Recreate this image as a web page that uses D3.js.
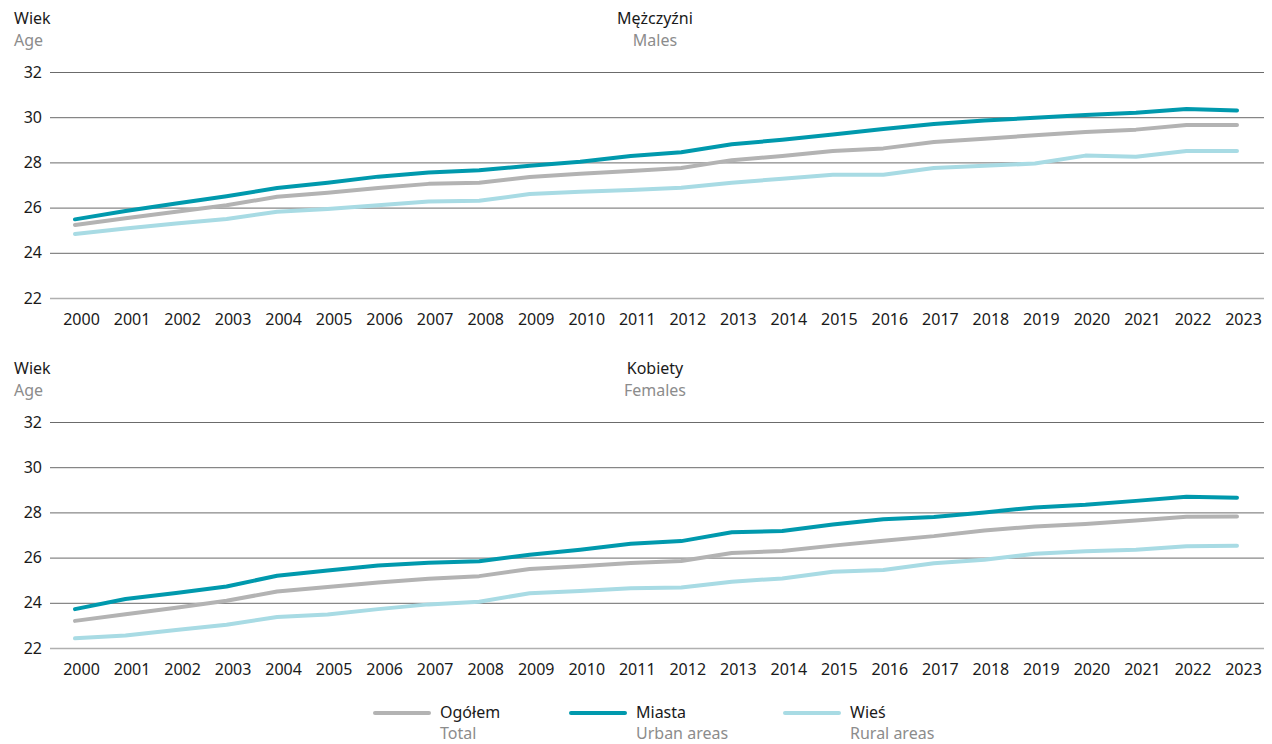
<!DOCTYPE html>
<html>
<head>
<meta charset="utf-8">
<script src="https://cdn.jsdelivr.net/npm/d3@7"></script>
<style>
  body { margin: 0; background: #fff; }
  svg text { font-family: "Noto Sans", sans-serif; }
</style>
</head>
<body>
<svg id="chart" width="1272" height="744"></svg>
<script>
var years = d3.range(2000, 2024);
var yTicks = [22, 24, 26, 28, 30, 32];

// Mężczyźni / Males
var malesTotal = [25.23, 25.53, 25.82, 26.1, 26.48, 26.66, 26.87, 27.05, 27.1, 27.35, 27.5, 27.62, 27.75, 28.1, 28.28, 28.5, 28.62, 28.9, 29.05, 29.2, 29.35, 29.45, 29.65, 29.65];
var malesUrban = [25.48, 25.85, 26.18, 26.5, 26.87, 27.1, 27.37, 27.55, 27.65, 27.85, 28.03, 28.28, 28.45, 28.8, 29.0, 29.23, 29.48, 29.7, 29.85, 29.98, 30.1, 30.2, 30.36, 30.3];
var malesRural = [24.83, 25.08, 25.3, 25.5, 25.82, 25.94, 26.1, 26.27, 26.3, 26.6, 26.7, 26.78, 26.88, 27.1, 27.28, 27.45, 27.45, 27.75, 27.85, 27.95, 28.3, 28.25, 28.5, 28.5];

// Kobiety / Females
var femalesTotal = [23.2, 23.49, 23.78, 24.09, 24.5, 24.7, 24.9, 25.06, 25.18, 25.5, 25.62, 25.76, 25.85, 26.2, 26.29, 26.53, 26.75, 26.95, 27.2, 27.38, 27.49, 27.64, 27.81, 27.82];
var femalesUrban = [23.72, 24.17, 24.43, 24.72, 25.2, 25.43, 25.65, 25.77, 25.84, 26.13, 26.35, 26.61, 26.73, 27.12, 27.18, 27.46, 27.7, 27.8, 28.0, 28.22, 28.34, 28.51, 28.69, 28.65];
var femalesRural = [22.43, 22.55, 22.8, 23.03, 23.37, 23.48, 23.72, 23.93, 24.05, 24.42, 24.52, 24.64, 24.68, 24.93, 25.08, 25.37, 25.45, 25.75, 25.9, 26.17, 26.28, 26.35, 26.5, 26.52];

var seriesNames = ["Ogółem", "Miasta", "Wieś"];
var seriesNamesEn = ["Total", "Urban areas", "Rural areas"];
var colors = ["#b3b3b3", "#0099ad", "#a8dbe4"];

var svg = d3.select("#chart");
var left = 50, right = 1264;

var x = d3.scalePoint()
  .domain(years)
  .range([75, 1237]);

function drawPanel(top, bottom, titlePl, titleEn, series) {
  var y = d3.scaleLinear().domain([22, 32]).range([bottom, top]);
  var g = svg.append("g");

  // labels at the top
  g.append("text").attr("x", 14).attr("y", top - 48).text("Wiek")
    .attr("font-size", 16).attr("fill", "#1a1a1a");
  g.append("text").attr("x", 14).attr("y", top - 26).text("Age")
    .attr("font-size", 16).attr("fill", "#8c8c8c");
  g.append("text").attr("x", 655).attr("y", top - 48).text(titlePl)
    .attr("text-anchor", "middle").attr("font-size", 16).attr("fill", "#1a1a1a");
  g.append("text").attr("x", 655).attr("y", top - 26).text(titleEn)
    .attr("text-anchor", "middle").attr("font-size", 16).attr("fill", "#8c8c8c");

  var yAxis = g.append("g")
    .attr("transform", "translate(" + left + ",0)")
    .call(d3.axisLeft(y).tickValues(yTicks).tickSize(-(right - left)).tickPadding(8));
  yAxis.select(".domain").remove();
  yAxis.selectAll("line")
    .attr("stroke", function(d) { return d == 22 ? "#b0b0b0" : "#6b6b6b"; })
    .attr("stroke-width", function(d) { return d == 22 ? 1.5 : 1; });
  yAxis.selectAll("text").attr("font-size", 16).attr("fill", "#1a1a1a")
    .attr("font-family", "Noto Sans, sans-serif");

  var xAxis = g.append("g")
    .attr("transform", "translate(6," + bottom + ")")
    .call(d3.axisBottom(x).tickSize(0).tickPadding(16));
  xAxis.select(".domain").remove();
  xAxis.selectAll("text").attr("font-size", 16).attr("fill", "#1a1a1a")
    .attr("font-family", "Noto Sans, sans-serif");

  var line = d3.line()
    .x(function(d, i) { return x(years[i]); })
    .y(function(d) { return y(d); });

  series.forEach(function(s, i) {
    g.append("path")
      .datum(s)
      .attr("d", line)
      .attr("fill", "none")
      .attr("stroke", colors[i])
      .attr("stroke-width", 4)
      .attr("stroke-linecap", "round")
      .attr("stroke-linejoin", "round");
  });
}

drawPanel(72, 298, "Mężczyźni", "Males", [malesTotal, malesUrban, malesRural]);
drawPanel(422, 648, "Kobiety", "Females", [femalesTotal, femalesUrban, femalesRural]);

// legend
var legendX = [375, 571, 785];
var legend = svg.append("g");
seriesNames.forEach(function(name, i) {
  legend.append("line")
    .attr("x1", legendX[i]).attr("x2", legendX[i] + 54)
    .attr("y1", 713).attr("y2", 713)
    .attr("stroke", colors[i]).attr("stroke-width", 4)
    .attr("stroke-linecap", "round");
  legend.append("text").attr("x", legendX[i] + 65).attr("y", 718)
    .text(name).attr("font-size", 16).attr("fill", "#1a1a1a");
  legend.append("text").attr("x", legendX[i] + 65).attr("y", 739)
    .text(seriesNamesEn[i]).attr("font-size", 16).attr("fill", "#8c8c8c");
});
</script>
</body>
</html>
